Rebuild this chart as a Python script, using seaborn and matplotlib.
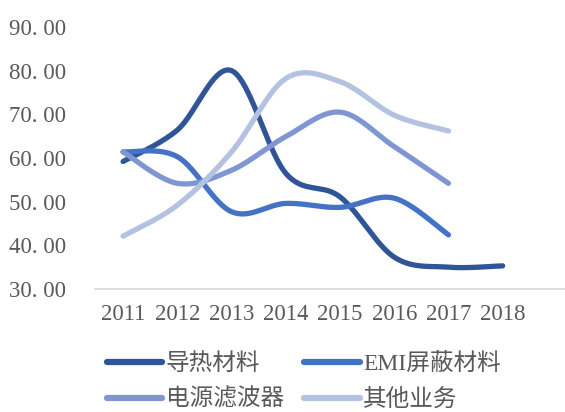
import numpy as np
import pandas as pd
import matplotlib
matplotlib.use("Agg")
import matplotlib.pyplot as plt
import seaborn as sns

years = ["2011", "2012", "2013", "2014", "2015", "2016", "2017", "2018"]
thermal = [59.2, 66.4, 80.0, 56.5, 51.1, 37.3, 35.0, 35.3]
emi = [61.4, 60.3, 47.7, 49.6, 48.7, 50.8, 42.4]
power_filter = [61.4, 54.2, 57.2, 64.9, 70.5, 62.6, 54.2]
other = [42.1, 49.2, 61.4, 78.2, 77.5, 69.8, 66.2]

series_names = ["导热材料", "EMI屏蔽材料", "电源滤波器", "其他业务"]
series_values = [thermal, emi, power_filter, other]
colors = ["#2F5597", "#4472C4", "#7F96D2", "#B4C2E2"]


def smooth(xs, ys, n=40):
    """Smoothed path through every point (Catmull-Rom style Bezier)."""
    pts = np.column_stack([xs, ys]).astype(float)
    ext = np.vstack([pts[0], pts, pts[-1]])
    out = []
    for i in range(len(pts) - 1):
        p0, p1, p2, p3 = ext[i], ext[i + 1], ext[i + 2], ext[i + 3]
        c1 = p1 + (p2 - p0) / 6.0
        c2 = p2 - (p3 - p1) / 6.0
        t = np.linspace(0, 1, n, endpoint=(i == len(pts) - 2))[:, None]
        seg = ((1 - t) ** 3) * p1 + 3 * ((1 - t) ** 2) * t * c1 + 3 * (1 - t) * t ** 2 * c2 + t ** 3 * p2
        out.append(seg)
    path = np.vstack(out)
    return path[:, 0], path[:, 1]


sns.set_theme(style="white")
plt.rcParams["font.family"] = ["Liberation Serif", "Noto Sans CJK SC"]

fig = plt.figure(figsize=(5.65, 4.12), dpi=100)
ax = fig.add_axes([0.168, 0.2985, 0.832, 0.636])

for name, vals, col in zip(series_names, series_values, colors):
    sx, sy = smooth(np.arange(len(vals)), vals)
    sns.lineplot(x=sx, y=sy, ax=ax, color=col, linewidth=3.8, sort=False,
                 estimator=None, label=name, solid_capstyle="round")

ax.set_ylim(30, 90)
ax.set_yticks(np.arange(30, 91, 10))
ax.set_yticklabels([f"{v:.0f}. 00" for v in np.arange(30, 91, 10)])
ax.set_xlim(-0.52, 8.15)
ax.set_xticks(range(len(years)))
ax.set_xticklabels(years)

for s in ["top", "right", "left"]:
    ax.spines[s].set_visible(False)
ax.spines["bottom"].set_color("#D9D9D9")
ax.spines["bottom"].set_linewidth(1.2)
ax.tick_params(axis="both", length=0, labelsize=16.5, colors="#595959")
ax.tick_params(axis="x", pad=11)
ax.tick_params(axis="y", pad=21)
ax.grid(False)

handles, labels = ax.get_legend_handles_labels()
order = [0, 2, 1, 3]
leg = ax.legend([handles[i] for i in order], [labels[i] for i in order],
                ncol=2, frameon=False, fontsize=17,
                loc="upper left", bbox_to_anchor=(0.0255, -0.245),
                handlelength=2.35, handletextpad=0.15, columnspacing=0.85,
                labelspacing=0.56, borderaxespad=0, borderpad=0)
for t in leg.get_texts():
    t.set_color("#595959")
for h in leg.get_lines():
    h.set_linewidth(4.5)

fig.savefig("out.png", dpi=100)
